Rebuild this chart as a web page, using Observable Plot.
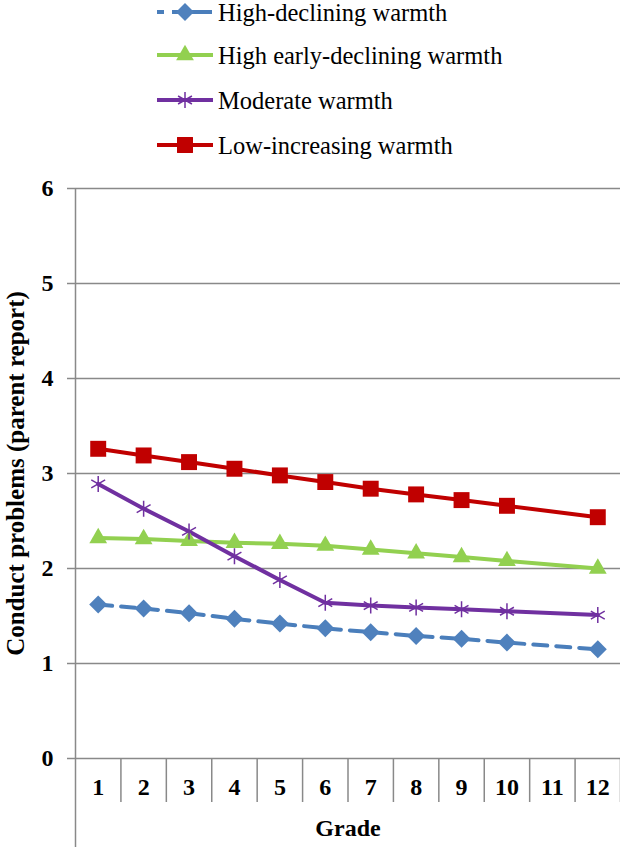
<!DOCTYPE html>
<html>
<head>
<meta charset="utf-8">
<script src="https://cdn.jsdelivr.net/npm/d3@7"></script>
<script src="https://cdn.jsdelivr.net/npm/@observablehq/plot@0.6"></script>
<style>
  html, body { margin: 0; padding: 0; background: #fff; }
  body { width: 620px; font-family: "Liberation Serif", "Times New Roman", serif; }
  svg text { font-family: "Liberation Serif", "Times New Roman", serif !important; }
</style>
</head>
<body>
<div id="legend"></div>
<div id="chart"></div>
<script>
// ---- data ----
const grades = [1, 2, 3, 4, 5, 6, 7, 8, 9, 10, 11, 12];
const seriesGrades = [1, 2, 3, 4, 5, 6, 7, 8, 9, 10, 12];
const seriesNames = ["High-declining warmth", "High early-declining warmth", "Moderate warmth", "Low-increasing warmth"];
const highDeclining      = [1.62, 1.58, 1.53, 1.47, 1.42, 1.37, 1.33, 1.29, 1.26, 1.22, 1.15];
const highEarlyDeclining = [2.32, 2.31, 2.29, 2.27, 2.26, 2.24, 2.20, 2.16, 2.12, 2.08, 2.00];
const moderate           = [2.89, 2.63, 2.39, 2.13, 1.88, 1.64, 1.61, 1.59, 1.57, 1.55, 1.51];
const lowIncreasing      = [3.26, 3.19, 3.12, 3.05, 2.98, 2.91, 2.84, 2.78, 2.72, 2.66, 2.54];
const yTicks = [0, 1, 2, 3, 4, 5, 6];

// ---- styles ----
const seriesValues = [highDeclining, highEarlyDeclining, moderate, lowIncreasing];
const styles = [
  {line: "#4a7ebb", fill: "#4f81bd", symbol: "diamond2", r: 8.1, dash: "14,9", d3sym: d3.symbolDiamond2},
  {line: "#92d050", fill: "#92d050", symbol: "triangle", r: 6.6, dash: null, d3sym: d3.symbolTriangle},
  {line: "#7030a0", fill: "none", symbol: "asterisk", r: 7.6, dash: null, d3sym: d3.symbolAsterisk},
  {line: "#c00000", fill: "#c00000", symbol: "square", r: 9, dash: null, d3sym: d3.symbolSquare}
];
const gridColor = "#898989";
const font = "Liberation Serif, Times New Roman, serif";

const data = seriesNames.flatMap((name, i) =>
  seriesValues[i].map((v, j) => ({series: name, grade: seriesGrades[j], value: v})));

// ---- legend ----
const legendRows = [12, 55, 100, 145];
const lsvg = d3.select("#legend").append("svg").attr("width", 620).attr("height", 170)
  .style("display", "block");
seriesNames.forEach((name, i) => {
  const s = styles[i];
  const g = lsvg.append("g").attr("transform", `translate(0,${legendRows[i]})`);
  g.append("line").attr("x1", 157).attr("x2", 213).attr("y1", 0).attr("y2", 0)
    .attr("stroke", s.line).attr("stroke-width", 4)
    .attr("stroke-dasharray", i === 0 ? "7,8,40" : null);
  const size = Math.PI * s.r * s.r;
  g.append("path").attr("d", d3.symbol(s.d3sym, size)()).attr("transform", "translate(185,0)")
    .attr("fill", s.fill === "none" ? "none" : s.fill)
    .attr("stroke", s.fill === "none" ? s.line : "none")
    .attr("stroke-width", 1.5);
  g.append("text").attr("x", 218).attr("y", 0).attr("dy", "0.35em")
    .attr("font-size", 24.5).attr("fill", "#000").text(name);
});

// ---- chart ----
const separators = grades.map(g => g + 0.5);
const lineMarks = seriesNames.map((name, i) =>
  Plot.line(data.filter(d => d.series === name), {
    x: "grade", y: "value", stroke: styles[i].line, strokeWidth: 4,
    strokeDasharray: styles[i].dash, strokeLinecap: "round", strokeLinejoin: "round"
  }));
const dotMarks = seriesNames.map((name, i) =>
  Plot.dot(data.filter(d => d.series === name), {
    x: "grade", y: "value", symbol: styles[i].symbol, r: styles[i].r,
    fill: styles[i].fill, stroke: styles[i].fill === "none" ? styles[i].line : "none",
    strokeWidth: 1.5
  }));

const chart = Plot.plot({
  width: 620,
  height: 677,
  marginTop: 18,
  marginBottom: 89,
  marginLeft: 75,
  marginRight: 0,
  style: {fontFamily: font, background: "#fff", color: "#000", overflow: "visible"},
  x: {type: "linear", domain: [0.5, 12.5]},
  y: {domain: [0, 6]},
  marks: [
    Plot.gridY(yTicks, {stroke: gridColor, strokeOpacity: 1, strokeWidth: 1.5}),
    Plot.ruleX([0.5], {stroke: gridColor, strokeWidth: 1.5}),
    Plot.axisY(yTicks, {tickSize: 8, tickPadding: 14, fontSize: 24, fontWeight: "bold",
      label: null, stroke: gridColor, strokeWidth: 1.5, tickFormat: d => String(d)}),
    Plot.axisX(separators, {tickSize: 44, tickFormat: () => "", label: null,
      stroke: gridColor, strokeWidth: 1.5}),
    Plot.axisX([0.5], {tickSize: 89, tickFormat: () => "", label: null,
      stroke: gridColor, strokeWidth: 1.5}),
    Plot.axisX(grades, {tickSize: 0, tickPadding: 19, fontSize: 24, fontWeight: "bold",
      label: null, tickFormat: d => String(d)}),
    Plot.text(["Conduct problems (parent report)"], {frameAnchor: "left", textAnchor: "middle",
      dx: -60, rotate: -90, fontSize: 25, fontWeight: "bold", fill: "#000"}),
    Plot.text(["Grade"], {frameAnchor: "bottom", dy: 77, fontSize: 24, fontWeight: "bold", fill: "#000"}),
    ...lineMarks,
    ...dotMarks
  ]
});
document.getElementById("chart").appendChild(chart);
</script>
</body>
</html>
